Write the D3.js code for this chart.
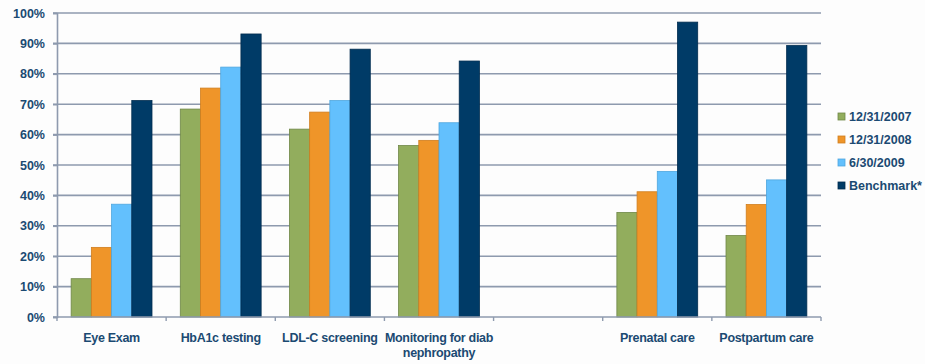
<!DOCTYPE html>
<html>
<head>
<meta charset="utf-8">
<script src="https://cdn.jsdelivr.net/npm/d3@7"></script>
<style>
  html, body { margin: 0; padding: 0; background: #fdfdfd; }
  svg { display: block; font-family: "Liberation Sans", Arial, sans-serif; font-weight: bold; }
</style>
</head>
<body>
<svg id="chart" width="925" height="364"></svg>
<script>
// Quality measures by category (percent of members)
const categories = ["Eye Exam", "HbA1c testing", "LDL-C screening", "Monitoring for diab nephropathy", "", "Prenatal care", "Postpartum care"];
const seriesNames = ["12/31/2007", "12/31/2008", "6/30/2009", "Benchmark*"];
const values2007 = [12.6, 68.4, 61.8, 56.4, null, 34.4, 26.8];
const values2008 = [22.9, 75.3, 67.4, 58.1, null, 41.2, 37.0];
const values2009 = [37.1, 82.2, 71.2, 63.9, null, 47.9, 45.1];
const valuesBenchmark = [71.2, 93.1, 88.1, 84.2, null, 97.0, 89.3];
const yTicks = [0, 10, 20, 30, 40, 50, 60, 70, 80, 90, 100];

const seriesValues = [values2007, values2008, values2009, valuesBenchmark];
const fills = ["#92ad5d", "#ef9529", "#63c0fd", "#003b67"];
const strokes = ["#6f8748", "#d07e1e", "#4fa6de", "#002c4f"];
const textColor = "#1b4a72";
const gridColor = "#8e9aae";

const svg = d3.select("#chart");
const plot = { left: 57, right: 821, top: 13, bottom: 317 };

const x0 = d3.scaleBand().domain(categories).range([plot.left, plot.right]).padding(0);
const x1 = d3.scaleBand().domain(seriesNames).range([0, x0.bandwidth()]).paddingInner(0).paddingOuter(0.7);
const y = d3.scaleLinear().domain([0, 100]).range([plot.bottom, plot.top]);

// horizontal gridlines
svg.append("g").selectAll("line").data(yTicks.slice(1)).join("line")
  .attr("x1", plot.left - 4).attr("x2", plot.right)
  .attr("y1", d => y(d)).attr("y2", d => y(d))
  .attr("stroke", gridColor).attr("stroke-width", 1.6);

// y axis
const yAxis = svg.append("g").attr("transform", `translate(${plot.left},0)`)
  .call(d3.axisLeft(y).tickValues(yTicks).tickFormat(d => d + "%").tickSize(4).tickPadding(8));
yAxis.select(".domain").attr("stroke", gridColor).attr("stroke-width", 1.6);
yAxis.selectAll(".tick line").attr("stroke", gridColor).attr("stroke-width", 1.6);
yAxis.selectAll(".tick text").attr("fill", textColor).attr("font-size", "12.5px")
  .attr("font-weight", "bold").attr("font-family", "Liberation Sans, Arial, sans-serif");

// bars
const groups = svg.append("g").selectAll("g").data(categories).join("g")
  .attr("transform", d => `translate(${x0(d)},0)`);
groups.selectAll("rect")
  .data((c, i) => seriesNames.map((s, k) => ({ s, k, v: seriesValues[k][i] })).filter(d => d.v != null))
  .join("rect")
  .attr("x", d => x1(d.s))
  .attr("width", x1.bandwidth())
  .attr("y", d => y(d.v))
  .attr("height", d => y(0) - y(d.v))
  .attr("fill", d => fills[d.k])
  .attr("stroke", d => strokes[d.k])
  .attr("stroke-width", 0.8);

// x axis baseline and category boundary ticks
svg.append("line").attr("x1", plot.left - 4).attr("x2", plot.right)
  .attr("y1", y(0)).attr("y2", y(0))
  .attr("stroke", gridColor).attr("stroke-width", 1.6);
const bounds = categories.map(c => x0(c)).concat([x0(categories[categories.length - 1]) + x0.bandwidth()]);
svg.append("g").selectAll("line").data(bounds).join("line")
  .attr("x1", d => d).attr("x2", d => d)
  .attr("y1", y(0)).attr("y2", y(0) + 4)
  .attr("stroke", gridColor).attr("stroke-width", 1.4);

// category labels, wrapped to the band width
function wrapWords(text, width, size) {
  const words = text.split(" ");
  const lines = [];
  let line = "";
  const ctx = document.createElement("canvas").getContext("2d");
  ctx.font = `bold ${size}px "Liberation Sans", Arial, sans-serif`;
  words.forEach(w => {
    const test = line ? line + " " + w : w;
    if (ctx.measureText(test).width > width && line) { lines.push(line); line = w; }
    else line = test;
  });
  if (line) lines.push(line);
  return lines;
}
const labels = svg.append("g").selectAll("text").data(categories).join("text")
  .attr("x", d => x0(d) + x0.bandwidth() / 2)
  .attr("y", 342)
  .attr("text-anchor", "middle")
  .attr("fill", textColor)
  .attr("font-size", "12.5px")
  .attr("letter-spacing", "-0.3px");
labels.each(function (d) {
  const lines = wrapWords(d, 118, 12.5);
  d3.select(this).selectAll("tspan").data(lines).join("tspan")
    .attr("x", x0(d) + x0.bandwidth() / 2)
    .attr("dy", (l, i) => i === 0 ? 0 : 15)
    .text(l => l);
});

// legend
const legend = svg.append("g").attr("transform", "translate(838,117)");
const items = legend.selectAll("g").data(seriesNames).join("g")
  .attr("transform", (d, i) => `translate(0,${i * 23})`);
items.append("rect").attr("x", 0).attr("y", -4).attr("width", 7).attr("height", 7)
  .attr("fill", (d, i) => fills[i]).attr("stroke", (d, i) => strokes[i]).attr("stroke-width", 0.8);
items.append("text").attr("x", 11).attr("y", 0).attr("dy", "0.35em")
  .attr("fill", textColor).attr("font-size", "12.5px").text(d => d);
</script>
</body>
</html>
